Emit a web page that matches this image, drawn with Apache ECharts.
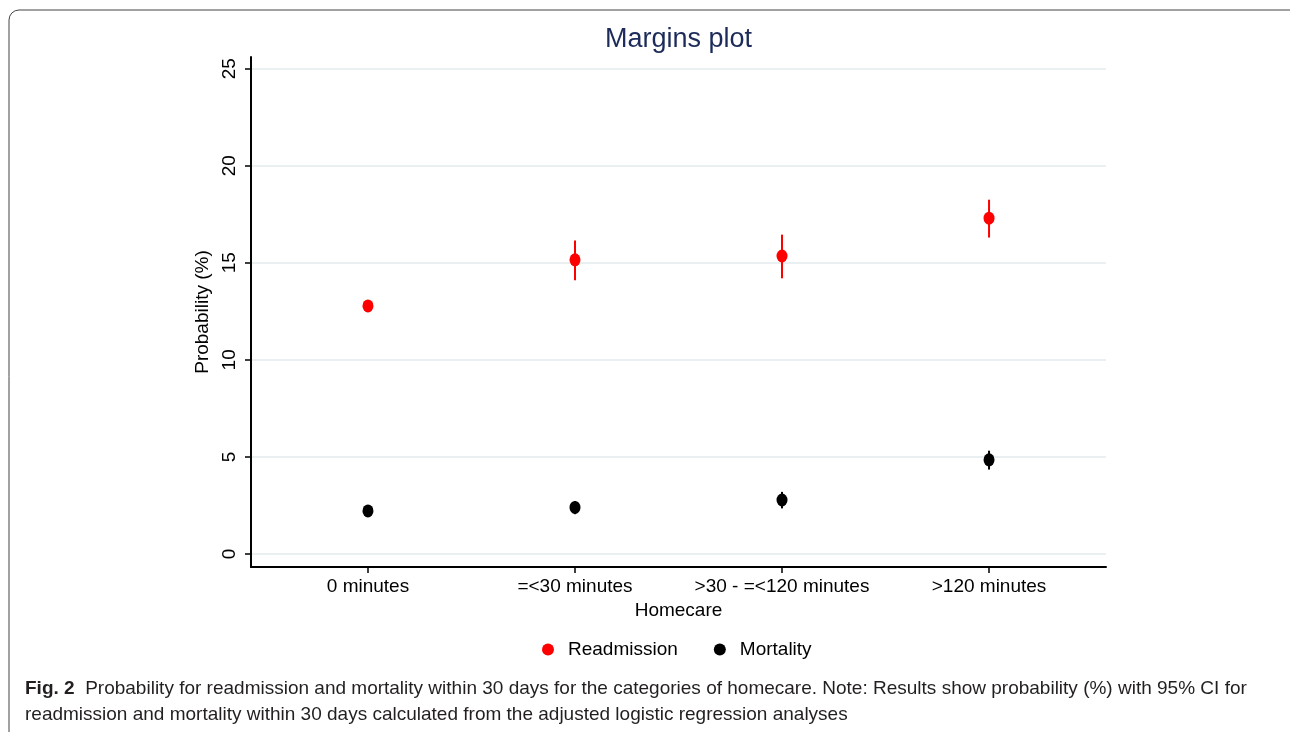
<!DOCTYPE html>
<html>
<head>
<meta charset="utf-8">
<script src="https://cdn.jsdelivr.net/npm/echarts@6/dist/echarts.min.js"></script>
<style>
html,body{margin:0;padding:0;background:#fff;}
#chart{width:1290px;height:732px;}
</style>
</head>
<body>
<div id="chart"></div>
<script>
const categories = ['0 minutes', '=<30 minutes', '>30 - =<120 minutes', '>120 minutes'];
const yTicks = [0, 5, 10, 15, 20, 25];
const readmission = [12.78, 15.15, 15.35, 17.3];
const readmissionLow = [12.6, 14.1, 14.2, 16.3];
const readmissionHigh = [12.95, 16.15, 16.45, 18.25];
const mortality = [2.22, 2.4, 2.78, 4.85];
const mortalityLow = [2.1, 2.05, 2.35, 4.35];
const mortalityHigh = [2.35, 2.73, 3.2, 5.32];

const chart = echarts.init(document.getElementById('chart'));
const font = 'Liberation Sans, Arial, sans-serif';

function errSeries(name, low, high, color) {
  return {
    name: name,
    type: 'custom',
    z: 2,
    silent: true,
    itemStyle: { color: color },
    data: low.map((l, i) => [i, l, high[i]]),
    renderItem: function (params, api) {
      const p1 = api.coord([api.value(0), api.value(1)]);
      const p2 = api.coord([api.value(0), api.value(2)]);
      return {
        type: 'line',
        shape: { x1: p1[0], y1: p1[1], x2: p2[0], y2: p2[1] },
        style: { stroke: color, lineWidth: 2 }
      };
    }
  };
}

const option = {
  backgroundColor: '#fff',
  animation: false,
  title: {
    text: 'Margins plot',
    left: 600, top: 21,
    textStyle: { fontFamily: font, fontSize: 27, fontWeight: 'normal', color: '#1c2b59' }
  },
  grid: { left: 251, right: 184, top: 57, bottom: 165 },
  legend: {
    left: 537, top: 635,
    itemGap: 36,
    itemWidth: 12, itemHeight: 12,
    textStyle: { fontFamily: font, fontSize: 19, color: '#000', padding: [0, 0, 0, 9] },
    data: [
      { name: 'Readmission', icon: 'circle', itemStyle: { color: '#ff0000' } },
      { name: 'Mortality', icon: 'circle', itemStyle: { color: '#000000' } }
    ]
  },
  xAxis: {
    type: 'value',
    min: -0.565, max: 3.565,
    name: 'Homecare',
    nameLocation: 'middle',
    nameGap: 30,
    nameTextStyle: { fontFamily: font, fontSize: 19, color: '#000' },
    axisLine: { onZero: false, lineStyle: { color: '#000', width: 2 } },
    axisTick: { show: true, customValues: [0, 1, 2, 3], length: 6, lineStyle: { color: '#000', width: 1.5 } },
    axisLabel: {
      customValues: [0, 1, 2, 3],
      formatter: v => categories[Math.round(v)],
      fontFamily: font, fontSize: 19, color: '#000', margin: 10
    },
    splitLine: { show: false }
  },
  yAxis: {
    type: 'value',
    min: -0.67, max: 25.6,
    name: 'Probability (%)',
    nameLocation: 'middle',
    nameGap: 31,
    nameRotate: 90,
    nameTextStyle: { fontFamily: font, fontSize: 19, color: '#000' },
    axisLine: { show: true, onZero: false, lineStyle: { color: '#000', width: 2 } },
    axisTick: { show: true, customValues: yTicks, length: 6, lineStyle: { color: '#000', width: 1.5 } },
    axisLabel: {
      customValues: yTicks,
      rotate: 90,
      fontFamily: font, fontSize: 19, color: '#000', margin: 12
    },
    splitLine: { show: true, lineStyle: { color: '#eaeff2', width: 2 } }
  },
  series: [
    errSeries('Readmission', readmissionLow, readmissionHigh, '#ff0000'),
    errSeries('Mortality', mortalityLow, mortalityHigh, '#000000'),
    {
      name: 'Readmission', type: 'scatter', z: 3,
      symbol: 'circle', symbolSize: [11, 13],
      itemStyle: { color: '#ff0000', opacity: 1 },
      data: readmission.map((v, i) => [i, v])
    },
    {
      name: 'Mortality', type: 'scatter', z: 3,
      symbol: 'circle', symbolSize: [11, 13],
      itemStyle: { color: '#000000', opacity: 1 },
      data: mortality.map((v, i) => [i, v])
    }
  ],
  graphic: [
    {
      type: 'rect', silent: true,
      shape: { x: 9, y: 10, width: 1300, height: 740, r: 10 },
      style: { fill: 'none', stroke: '#444', lineWidth: 1 }
    },
    {
      type: 'text', left: 25, top: 676,
      style: {
        text: '{b|Fig. 2}  Probability for readmission and mortality within 30 days for the categories of homecare. Note: Results show probability (%) with 95% CI for\nreadmission and mortality within 30 days calculated from the adjusted logistic regression analyses',
        fontFamily: 'Liberation Sans Narrow, Arial Narrow, sans-serif',
        fontSize: 19, lineHeight: 26, fill: '#231f20',
        rich: { b: { fontFamily: 'Liberation Sans Narrow, Arial Narrow, sans-serif', fontWeight: 'bold', fontSize: 19, fill: '#231f20' } }
      }
    }
  ]
};
chart.setOption(option);
</script>
</body>
</html>
